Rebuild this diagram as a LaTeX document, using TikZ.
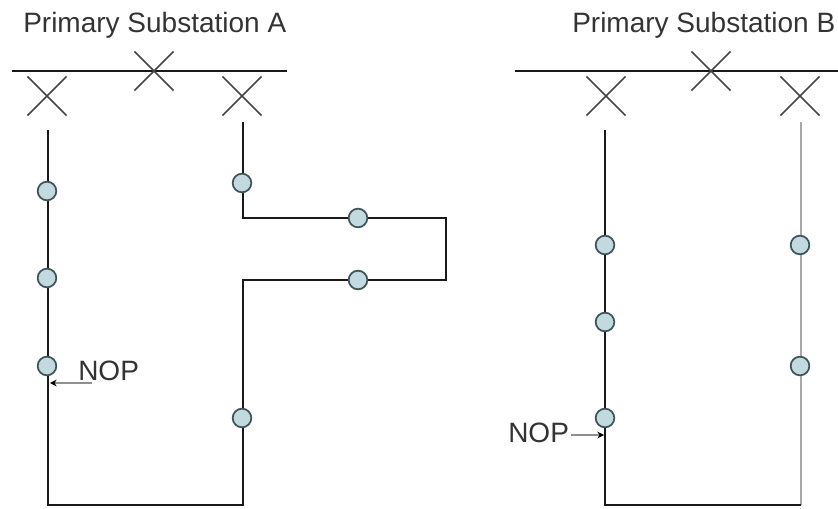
\documentclass[tikz,border=0pt]{standalone}
\usepackage{fontspec}
\setmainfont{Liberation Sans}
\usetikzlibrary{shapes.misc,arrows.meta}
\definecolor{wirecolor}{rgb}{0.10,0.10,0.10}
\definecolor{crosscolor}{rgb}{0.27,0.27,0.27}
\definecolor{sparecolor}{rgb}{0.66,0.66,0.66}
\definecolor{rmucolor}{rgb}{0.76,0.85,0.88}
\definecolor{rmuline}{rgb}{0.24,0.33,0.35}
\tikzset{
  wire/.style = {draw = wirecolor, line width = 1.65pt},
  sparewire/.style = {draw = sparecolor, line width = 2.2pt},
  breaker/.style = {cross out, draw = crosscolor, line width = 1.3pt, inner sep = 0pt, minimum size = 28pt},
  rmu/.style = {circle, draw = rmuline, fill = rmucolor, line width = 1.3pt, inner sep = 0pt, minimum size = 14pt},
  lbl/.style = {anchor = base west, inner sep = 0pt, font = \fontsize{21}{24}\selectfont, text = black!80},
  noparrow/.style = {draw = sparecolor!85!black, line width = 1.6pt, -{Stealth[length = 5pt, width = 5pt, black]}}
}
\begin{document}
\begin{tikzpicture}[x = 0.75pt, y = -0.75pt]
\useasboundingbox (0,0) rectangle (838,509);
% substation A
\node[lbl] (titleA) at (23,33) {Primary Substation A};
\coordinate (busAw) at (12,71);
\coordinate (busAe) at (287,71);
\draw[wire] (busAw) -- (busAe);
\node[breaker] (brkA) at (154,71) {};
\node[breaker] (brkAl) at (47,96) {};
\node[breaker] (brkAr) at (242,96) {};
\coordinate (topAl) at (48,130);
\coordinate (topAr) at (243,122);
\coordinate (loopAa) at (243,218);
\coordinate (loopAb) at (446,218);
\coordinate (loopAc) at (446,280);
\coordinate (loopAd) at (243,280);
\coordinate (botAr) at (243,505);
\coordinate (botAl) at (48,505);
\draw[wire] (topAr) -- (loopAa) -- (loopAb) -- (loopAc) -- (loopAd) -- (botAr) -- (botAl) -- (topAl);
\foreach \n/\px/\py in {a/47/191, b/47/278, c/47/366, d/242/183, e/358/218, f/358/280, g/242/418}
  \node[rmu] (rmuA\n) at (\px,\py) {};
\coordinate (tipA) at (50,383);
\coordinate (tailA) at (92,383);
\draw[noparrow] (tailA) -- (tipA);
\node[lbl] (nopA) at (78,380) {NOP};
% substation B
\node[lbl] (titleB) at (572,33) {Primary Substation B};
\coordinate (busBw) at (515,71);
\coordinate (busBe) at (838,71);
\draw[wire] (busBw) -- (busBe);
\node[breaker] (brkB) at (711,71) {};
\node[breaker] (brkBl) at (606,96) {};
\node[breaker] (brkBr) at (800,96) {};
\coordinate (topBl) at (605,130);
\coordinate (topBr) at (801,122);
\coordinate (botBl) at (605,505);
\coordinate (botBr) at (801,505);
\draw[sparewire] (topBr) -- (botBr);
\draw[wire] (topBl) -- (botBl) -- (botBr);
\foreach \n/\px/\py in {a/605/245, b/605/322, c/605/418, d/800/245, e/800/366}
  \node[rmu] (rmuB\n) at (\px,\py) {};
\node[lbl] (nopB) at (508,442) {NOP};
\coordinate (tipB) at (604,435);
\draw[noparrow] (nopB.east |- tipB) ++(2,0) -- (tipB);
\end{tikzpicture}
\end{document}
